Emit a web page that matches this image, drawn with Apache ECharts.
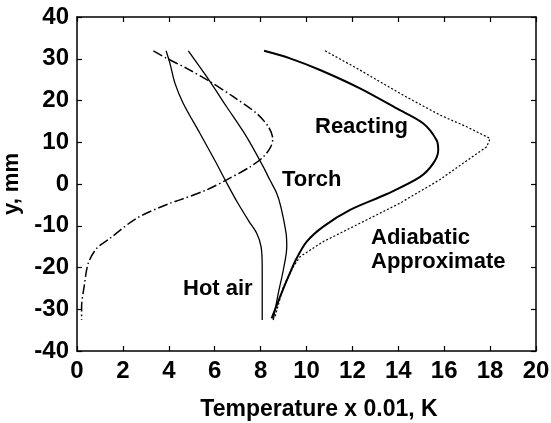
<!DOCTYPE html>
<html>
<head>
<meta charset="utf-8">
<script src="https://cdn.jsdelivr.net/npm/echarts@6/dist/echarts.min.js"></script>
<style>
  html, body { margin: 0; padding: 0; background: #fff; }
  #chart { width: 551px; height: 423px; }
</style>
</head>
<body>
<div id="chart"></div>
<script>
// temperature profiles, [temperature x 0.01 K, y mm]
var xTicks = [0, 2, 4, 6, 8, 10, 12, 14, 16, 18, 20];
var yTicks = [-40, -30, -20, -10, 0, 10, 20, 30, 40];

var dashedCurve = [
  [3.33, 31.9], [3.91, 30.1], [4.78, 27.7], [5.80, 24.5], [6.81, 20.9],
  [7.83, 16.9], [8.34, 13.7], [8.53, 10.9], [8.44, 8.9], [8.12, 6.5],
  [7.54, 4.1], [6.52, 1.0], [5.65, -1.4], [4.49, -3.8], [4.05, -4.6],
  [2.60, -8.2], [1.44, -13.0], [0.86, -15.4], [0.49, -19.0], [0.31, -24.6],
  [0.20, -29.4], [0.20, -32.6]
];
var hotAir = [
  [3.88, 31.9], [4.05, 28.9], [4.27, 24.1], [4.63, 19.3], [5.36, 12.1],
  [6.02, 5.5], [6.50, 0.5], [7.00, -4.5], [7.50, -9.0], [7.83, -11.8],
  [8.02, -15.0], [8.07, -19.8], [8.07, -32.6]
];
var torch = [
  [4.85, 31.9], [5.65, 25.7], [6.52, 18.5], [7.39, 11.3], [8.12, 4.1],
  [8.40, 1.0], [8.70, -2.2], [8.88, -5.4], [9.11, -11.8], [9.14, -15.0],
  [8.99, -20.6], [8.77, -26.2], [8.55, -32.6]
];
var reacting = [
  [8.15, 31.9], [9.28, 30.1], [10.59, 27.3], [12.33, 22.9], [13.93, 18.1],
  [15.09, 14.5], [15.67, 10.5], [15.74, 8.1], [15.53, 5.0], [14.95, 1.7],
  [13.50, -2.4], [11.90, -6.2], [10.73, -10.2], [10.01, -13.8],
  [9.57, -17.8], [9.21, -22.2], [8.85, -27.0], [8.48, -32.2]
];
var adiabatic = [
  [10.81, 31.9], [12.33, 27.3], [14.07, 21.7], [15.82, 16.5], [16.98, 13.7],
  [18.00, 10.9], [17.85, 8.9], [16.83, 5.0], [15.80, 1.0], [14.07, -4.6],
  [12.33, -9.4], [10.73, -13.8], [9.72, -17.4], [9.43, -19.8], [8.99, -24.6],
  [8.63, -31.8]
];

var font = 'Liberation Sans, Arial, sans-serif';

var myChart = echarts.init(document.getElementById('chart'));

function lineSeries(name, data, width, type, smooth) {
  return {
    name: name,
    type: 'line',
    data: data,
    symbol: 'none',
    smooth: smooth,
    lineStyle: { color: '#000', width: width, type: type },
    animation: false
  };
}

var axisLine = { onZero: false, lineStyle: { color: '#000', width: 1.5 } };
var axisTick = { inside: true, length: 5, lineStyle: { color: '#000', width: 1.2 } };
var tickFont = { color: '#000', fontFamily: font, fontWeight: 'bold', fontSize: 24, margin: 8 };
var labelStyle = { fill: '#000', fontFamily: font, fontWeight: 'bold', fontSize: 22 };

myChart.setOption({
  backgroundColor: '#fff',
  grid: { left: 77, right: 15, top: 17, bottom: 72, outerBoundsMode: 'none' },
  xAxis: [{
    type: 'value', min: 0, max: 20, interval: 2,
    name: 'Temperature x 0.01, K',
    nameLocation: 'middle', nameGap: 47,
    nameTextStyle: { color: '#000', fontFamily: font, fontWeight: 'bold', fontSize: 23, padding: [0, 0, 0, 25] },
    axisLine: axisLine, axisTick: axisTick, axisLabel: tickFont,
    splitLine: { show: false }
  }, {
    type: 'value', position: 'top', min: 0, max: 20, interval: 2,
    axisLine: axisLine, axisTick: axisTick,
    axisLabel: { show: false },
    splitLine: { show: false }
  }],
  yAxis: [{
    type: 'value', min: -40, max: 40, interval: 10,
    name: 'y, mm',
    nameLocation: 'middle', nameGap: 48, nameRotate: 90,
    nameTextStyle: { color: '#000', fontFamily: font, fontWeight: 'bold', fontSize: 22 },
    axisLine: axisLine, axisTick: axisTick, axisLabel: tickFont,
    splitLine: { show: false }
  }, {
    type: 'value', position: 'right', min: -40, max: 40, interval: 10,
    axisLine: axisLine, axisTick: axisTick,
    axisLabel: { show: false },
    splitLine: { show: false }
  }],
  series: [
    lineSeries('dashed', dashedCurve, 1.5, [10, 3, 1.5, 3], 0.3),
    lineSeries('Hot air', hotAir, 1.3, 'solid', 0.3),
    lineSeries('Torch', torch, 1.3, 'solid', 0.3),
    lineSeries('Reacting', reacting, 2, 'solid', 0.3),
    lineSeries('Adiabatic Approximate', adiabatic, 1.2, [2, 2], false)
  ],
  graphic: [
    { type: 'text', left: 315, top: 116, style: Object.assign({ text: 'Reacting' }, labelStyle) },
    { type: 'text', left: 282, top: 169, style: Object.assign({ text: 'Torch' }, labelStyle) },
    { type: 'text', left: 183, top: 278, style: Object.assign({ text: 'Hot air' }, labelStyle) },
    { type: 'text', left: 371, top: 226, style: Object.assign({ text: 'Adiabatic\nApproximate', lineHeight: 24 }, labelStyle) }
  ]
});
</script>
</body>
</html>
